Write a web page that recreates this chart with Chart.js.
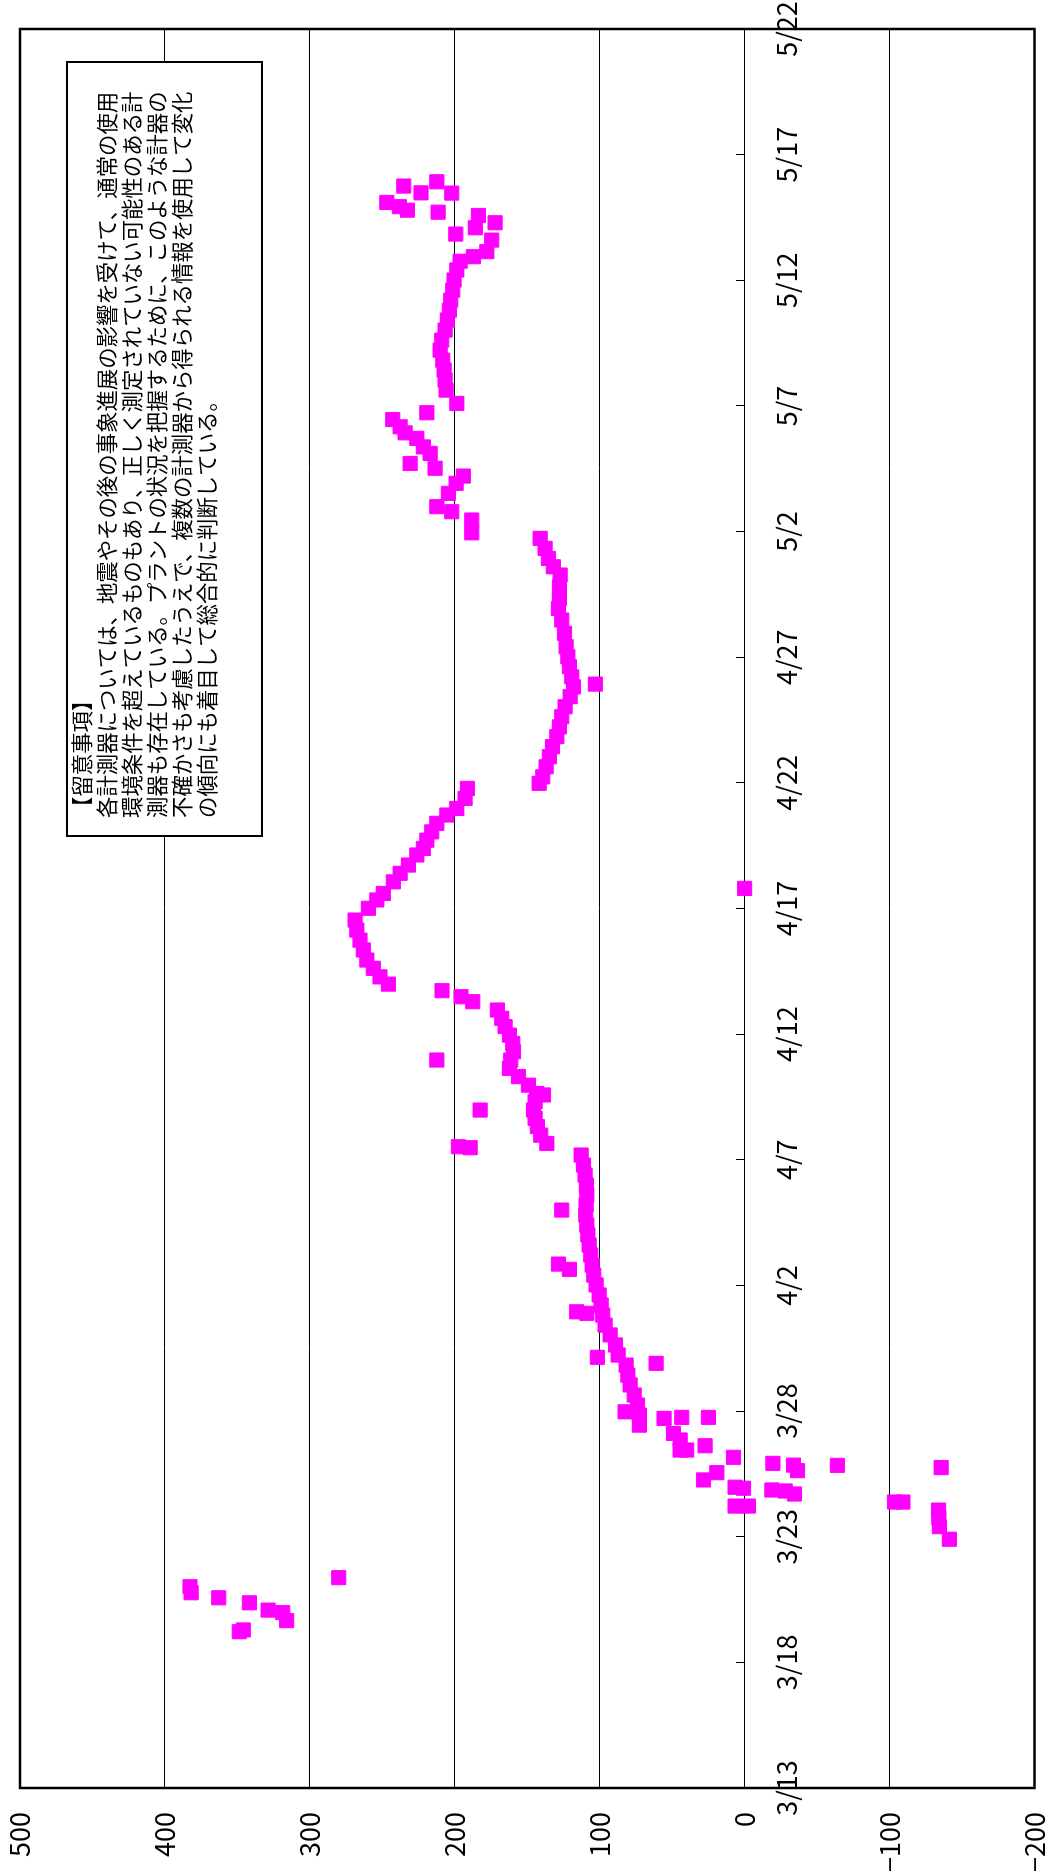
<!DOCTYPE html>
<html lang="ja">
<head>
<meta charset="utf-8">
<title>計測値の推移</title>
<script src="https://cdn.jsdelivr.net/npm/chart.js@4.4.1/dist/chart.umd.min.js"></script>
<style>
  html, body { margin: 0; padding: 0; background: #fff; overflow: hidden; }
  #page { position: relative; width: 1049px; height: 1876px; overflow: hidden; background: #fff; }
  /* the chart is laid out landscape and turned a quarter turn counter-clockwise */
  #turn { position: absolute; left: 0; top: 0; width: 1876px; height: 1049px;
          transform-origin: 0 0; transform: translate(0, 1876px) rotate(-90deg); }
</style>
</head>
<body>
<div id="page"><div id="turn"><canvas id="c" width="1876" height="1049"></canvas></div></div>
<script>
// date axis: days counted from 3/13, one label every 5 days
const tickLabels = ["3/13", "3/18", "3/23", "3/28", "4/2", "4/7", "4/12", "4/17",
                    "4/22", "4/27", "5/2", "5/7", "5/12", "5/17", "5/22"];

// reading times (days after 3/13)
const days = [
  6.22, 6.29, 6.66, 6.98, 7.08, 7.37, 7.57, 7.77, 8.01, 8.37,
  9.90, 10.40, 10.75, 11.06, 11.22, 11.22, 11.38, 11.38, 11.70, 11.82,
  11.86, 11.93, 11.97, 12.26, 12.55, 12.63, 12.75, 12.84, 12.85, 12.92,
  13.16, 13.45, 13.45, 13.62, 13.85, 14.11, 14.44, 14.71, 14.75, 14.75,
  14.84, 14.97, 15.24, 15.64, 16.04, 16.43, 16.83, 16.90, 17.14, 17.23,
  17.63, 18.03, 18.42, 18.82, 18.89, 18.95, 19.22, 19.62, 20.02, 20.41,
  20.64, 20.81, 20.85, 21.21, 21.61, 22.01, 22.40, 22.80, 23.00, 23.20,
  23.60, 23.99, 24.39, 24.79, 25.19, 25.48, 25.52, 25.65, 25.98, 26.32,
  26.65, 26.98, 26.98, 27.31, 27.58, 27.64, 27.97, 28.31, 28.64, 28.97,
  28.97, 29.30, 29.63, 29.96, 30.30, 30.63, 30.96, 31.29, 31.49, 31.73,
  31.99, 32.28, 32.62, 32.95, 33.35, 33.74, 34.14, 34.54, 35.01, 35.34,
  35.60, 35.80, 36.06, 36.40, 36.73, 37.13, 37.39, 37.72, 38.05, 38.39,
  38.72, 38.98, 39.38, 39.78, 39.98, 40.24, 40.64, 41.04, 41.44, 41.84,
  42.23, 42.63, 43.03, 43.43, 43.82, 43.93, 44.22, 44.62, 45.02, 45.42,
  45.95, 46.48, 46.94, 47.34, 47.80, 48.27, 48.60, 48.93, 49.33, 49.73,
  49.95, 50.46, 50.79, 50.99, 51.52, 51.92, 52.21, 52.52, 52.71, 53.11,
  53.37, 53.71, 53.93, 54.17, 54.46, 54.73, 55.10, 55.63, 56.03, 56.43,
  56.82, 57.22, 57.62, 58.02, 58.42, 58.81, 59.21, 59.61, 60.01, 60.41,
  60.76, 60.94, 61.14, 61.60, 61.84, 62.09, 62.29, 62.58, 62.71, 62.79,
  62.93, 63.10, 63.47, 63.48, 63.75, 63.92
];

// measured values
const values = [
  348.7, 345.9, 316.0, 318.7, 328.8, 341.7, 362.9, 381.9, 382.7, 280.1,
  -141.3, -134.4, -134.0, -133.8, 6.6, -2.6, -103.4, -109.2, -34.4, -28.0,
  -18.8, 0.8, 6.6, 28.4, 19.2, -36.5, -135.6, -64.0, -33.7, -19.5,
  7.7, 40.0, 44.5, 27.3, 44.5, 49.1, 72.6, 55.6, 43.4, 25.0,
  72.6, 82.5, 73.9, 76.2, 79.0, 80.6, 81.8, 61.1, 101.6, 87.3,
  89.1, 92.8, 96.3, 97.9, 108.9, 115.9, 99.0, 100.4, 102.5, 104.1,
  120.9, 105.2, 128.5, 106.2, 107.3, 108.2, 108.9, 109.6, 126.2, 109.4,
  108.9, 109.2, 110.1, 111.2, 112.8, 189.4, 197.5, 136.5, 140.7, 143.0,
  144.6, 145.7, 182.5, 144.6, 138.8, 143.4, 149.2, 156.1, 162.3, 161.4,
  212.4, 159.5, 160.0, 162.3, 165.3, 167.6, 170.6, 187.6, 195.7, 208.8,
  245.8, 251.6, 256.2, 260.7, 263.1, 265.4, 267.6, 268.8, 259.6, 253.8,
  249.3, 0.0, 242.4, 237.7, 232.0, 226.2, 221.7, 219.3, 215.9, 212.4,
  205.5, 198.6, 192.9, 191.3, 141.8, 139.3, 137.0, 134.7, 132.6, 129.6,
  127.8, 126.2, 123.9, 120.4, 118.1, 103.0, 119.3, 120.9, 122.0, 123.2,
  124.3, 126.2, 128.5, 127.8, 127.8, 127.3, 132.0, 135.4, 137.7, 141.1,
  188.3, 188.3, 202.1, 212.4, 204.4, 199.1, 194.1, 213.6, 230.8, 217.0,
  221.7, 226.2, 234.3, 237.7, 242.8, 219.3, 198.6, 206.0, 206.7, 207.4,
  208.3, 210.1, 209.0, 206.7, 205.1, 203.7, 202.8, 201.4, 200.5, 198.6,
  196.3, 187.1, 177.9, 174.5, 199.3, 185.8, 172.2, 183.7, 211.5, 232.7,
  238.2, 246.9, 202.1, 223.3, 235.2, 212.4
];

// note shown in the box
const noteLines = [
  "【留意事項】",
  "各計測器については、地震やその後の事象進展の影響を受けて、通常の使用",
  "環境条件を超えているものもあり、正しく測定されていない可能性のある計",
  "測器も存在している。プラントの状況を把握するために、このような計器の",
  "不確かさも考慮したうえで、複数の計測器から得られる情報を使用して変化",
  "の傾向にも着目して総合的に判断している。"
];

const FONT = '"Noto Sans CJK JP", "Noto Sans", sans-serif';

// plot frame and the note box
const frameAndNote = {
  id: 'frameAndNote',
  afterDraw(chart) {
    const { ctx, chartArea: a } = chart;
    ctx.save();
    const w = 774, h = 195;
    const bx = a.right - 33 - w, by = a.top + 47;
    ctx.fillStyle = '#fff';
    ctx.fillRect(bx, by, w, h);
    ctx.lineWidth = 2;
    ctx.strokeStyle = '#000';
    ctx.strokeRect(bx, by, w, h);
    ctx.fillStyle = '#000';
    ctx.font = '21.4px ' + FONT;
    ctx.textAlign = 'left';
    ctx.textBaseline = 'middle';
    noteLines.forEach((t, i) => ctx.fillText(t, bx + 18, by + 15 + 25 * i));
    ctx.lineWidth = 2.5;
    ctx.strokeRect(a.left, a.top, a.right - a.left, a.bottom - a.top);
    ctx.restore();
  }
};

new Chart(document.getElementById('c'), {
  type: 'scatter',
  data: {
    datasets: [{
      data: days.map((d, i) => ({ x: d, y: values[i] })),
      pointStyle: 'rect',
      pointRadius: 10,
      pointHoverRadius: 10,
      backgroundColor: '#ff00ff',
      borderColor: '#ff00ff',
      borderWidth: 1
    }]
  },
  options: {
    responsive: false,
    animation: false,
    devicePixelRatio: 1,
    layout: { padding: { top: 20, right: 29, bottom: 14.5, left: 0 } },
    plugins: { legend: { display: false }, tooltip: { enabled: false } },
    scales: {
      x: {
        type: 'linear',
        min: 0,
        max: 70,
        position: { y: 0 },
        ticks: {
          stepSize: 5,
          autoSkip: false,
          maxRotation: 0,
          minRotation: 0,
          padding: 35,
          color: '#000',
          font: { family: FONT, size: 27 },
          callback: (v, i) => tickLabels[i]
        },
        grid: { drawOnChartArea: false, drawTicks: true, tickLength: -9, tickColor: '#000', tickWidth: 1 },
        border: { display: true, color: '#000', width: 1 },
        // end labels may hang past the plot edge
        afterFit(s) { s.paddingLeft = 0; s.paddingRight = 0; }
      },
      y: {
        min: -200,
        max: 500,
        ticks: {
          stepSize: 100,
          padding: 24,
          color: '#000',
          font: { family: FONT, size: 27, lineHeight: 1 },
          callback: v => (v < 0 ? '\u2212' + Math.abs(v) : String(v))
        },
        grid: { color: '#000', lineWidth: 1, drawTicks: false },
        border: { display: false },
        afterFit(s) { s.width = 88; s.paddingTop = 0; s.paddingBottom = 0; }
      }
    }
  },
  plugins: [frameAndNote]
});
</script>
</body>
</html>
